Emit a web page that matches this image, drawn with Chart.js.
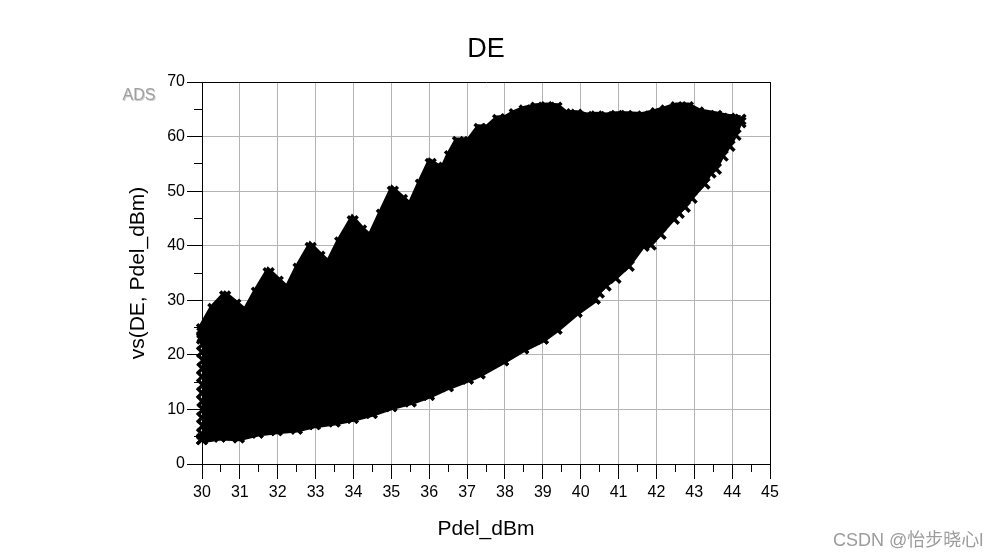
<!DOCTYPE html>
<html>
<head>
<meta charset="utf-8">
<title>DE</title>
<script src="https://cdn.jsdelivr.net/npm/chart.js@4"></script>
<style>
  html, body { margin: 0; background: #fff; }
  canvas { display: block; }
</style>
</head>
<body>
<canvas id="deChart" width="998" height="559"></canvas>
<script>
// outline of the point cloud (marker centres)
const upperPdel = [30.0, 30.3, 30.61, 30.88, 31.15, 31.45, 31.76, 32.0, 32.26, 32.55, 32.87, 33.1, 33.35, 33.65, 33.98, 34.2, 34.45, 34.75, 35.04, 35.28, 35.51, 35.78, 36.04, 36.2, 36.36, 36.55, 36.76, 37.07, 37.33, 37.55, 37.82, 38.04, 38.26, 38.52, 38.83, 39.1, 39.36, 39.58, 39.89, 40.15, 40.42, 40.68, 40.95, 41.21, 41.65, 42.0, 42.26, 42.53, 42.83, 43.1, 43.58, 43.93, 44.22];
const upperDE = [24.7, 28.4, 30.7, 29.2, 27.6, 31.4, 34.96, 33.4, 31.7, 35.8, 39.6, 38.0, 36.4, 40.6, 44.5, 42.8, 41.2, 45.7, 49.9, 48.4, 47.0, 51.2, 55.0, 54.3, 53.5, 56.4, 59.0, 59.0, 61.4, 61.35, 63.05, 63.2, 64.1, 64.8, 65.3, 65.4, 65.3, 64.1, 64.0, 63.6, 63.7, 63.6, 63.8, 63.8, 63.7, 64.3, 64.8, 65.4, 65.4, 64.4, 63.8, 63.3, 63.1];

const lowerPdel = [30.0, 30.47, 30.97, 31.47, 31.97, 32.5, 32.98, 33.5, 33.98, 34.48, 35.0, 35.51, 35.99, 36.49, 37.02, 37.33, 37.95, 38.48, 39.0, 39.36, 39.89, 40.37, 40.48, 40.66, 40.92, 41.27, 41.66, 41.85, 42.11, 42.46, 42.59, 42.75, 42.93, 43.27, 43.43, 43.57, 43.75, 43.93, 44.09, 44.22];
const lowerDE = [4.55, 5.04, 4.9, 5.77, 6.2, 6.5, 7.3, 7.8, 8.45, 9.36, 10.6, 11.5, 12.7, 14.26, 15.67, 16.6, 19.0, 21.2, 23.0, 24.8, 27.9, 30.3, 31.4, 32.7, 34.1, 36.3, 40.0, 40.2, 42.2, 44.95, 46.05, 47.15, 48.8, 51.4, 53.4, 54.1, 56.5, 58.3, 60.3, 62.6];
// below 40.4 dBm the cloud is dense, past that single crosses show along the edge
const denseCount = 22;

// left edge of the cloud, near the start of the sweep
const edgePdel = [30.0, 30.02, 30.0, 30.03, 30.01, 30.0, 30.02, 30.0, 30.01, 30.03, 30.0, 30.02, 30.0, 30.01];
const edgeDE = [5.5, 7.0, 8.5, 10.0, 11.5, 13.0, 14.5, 16.0, 17.5, 19.0, 20.5, 22.0, 23.0, 24.0];

const pdelRange = [30, 45];
const deRange = [0, 70];
const pdelStep = 0.5;
const deStep = 5;

const zip = (xs, ys) => xs.map((x, i) => ({ x: x, y: ys[i] }));

const GRID = "#b4b4b4";
const FONT = '"Liberation Sans", Arial, sans-serif';

function markerSet(xs, ys, extra) {
  return Object.assign({
    data: zip(xs, ys),
    showLine: true,
    borderColor: "#000",
    backgroundColor: "#000",
    borderWidth: 9,
    tension: 0,
    pointStyle: "crossRot",
    pointRadius: 7,
    pointBorderWidth: 3.5,
    pointBorderColor: "#000",
    clip: false,
  }, extra);
}

// axis tick marks (majors 15px, minors 8px) plus the loose labels
const extras = {
  id: "extras",
  afterDraw(chart) {
    const { ctx, scales } = chart;
    ctx.save();
    ctx.strokeStyle = "#000";
    ctx.lineWidth = 1;
    ctx.beginPath();
    scales.x.ticks.forEach((t) => {
      const px = Math.floor(scales.x.getPixelForValue(t.value)) + 0.5;
      const len = Number.isInteger(t.value) ? 15 : 8;
      ctx.moveTo(px, scales.x.top);
      ctx.lineTo(px, scales.x.top + len);
    });
    scales.y.ticks.forEach((t) => {
      const py = Math.floor(scales.y.getPixelForValue(t.value)) + 0.5;
      const len = t.value % 10 === 0 ? 15 : 8;
      ctx.moveTo(scales.y.right, py);
      ctx.lineTo(scales.y.right - len, py);
    });
    ctx.stroke();

    ctx.textBaseline = "middle";
    ctx.textAlign = "center";
    ctx.save();
    ctx.shadowColor = "#d0d0d0";
    ctx.shadowOffsetX = 1;
    ctx.shadowOffsetY = 1;
    ctx.fillStyle = "#a0a0a0";
    ctx.font = "16px " + FONT;
    ctx.fillText("ADS", 139, 96);
    ctx.restore();

    ctx.textAlign = "left";
    ctx.fillStyle = "#9c9c9c";
    ctx.font = '18px "Liberation Sans", "Noto Sans CJK SC", sans-serif';
    ctx.fillText("CSDN @怡步晓心l", 833, 541);
    ctx.restore();
  },
};

new Chart(document.getElementById("deChart"), {
  type: "scatter",
  data: {
    datasets: [
      markerSet(upperPdel, upperDE, { label: "upper", fill: "+1" }),
      markerSet(lowerPdel, lowerDE, { label: "lower", borderWidth: 4, fill: false }),
      markerSet(lowerPdel.slice(0, denseCount), lowerDE.slice(0, denseCount), { label: "lower dense", borderWidth: 8, fill: false }),
      markerSet(edgePdel, edgeDE, { label: "edge", showLine: false, fill: false }),
    ],
  },
  options: {
    responsive: false,
    animation: false,
    layout: { padding: { left: 0, right: 228, top: 0, bottom: 0 } },
    plugins: {
      legend: { display: false },
      tooltip: { enabled: false },
      title: {
        display: true,
        text: "DE",
        fullSize: false,
        color: "#000",
        font: { family: FONT, size: 27, weight: "normal" },
        padding: { top: 33.8, bottom: 15.8 },
      },
    },
    scales: {
      x: {
        type: "linear",
        min: pdelRange[0],
        max: pdelRange[1],
        afterFit: (s) => { s.height = 95; },
        border: { color: "#000" },
        grid: {
          drawTicks: false,
          color: (c) => {
            const v = c.tick.value;
            if (!Number.isInteger(v)) return "rgba(0,0,0,0)";
            return v === pdelRange[0] || v === pdelRange[1] ? "#000" : GRID;
          },
        },
        ticks: {
          stepSize: pdelStep,
          autoSkip: false,
          maxRotation: 0,
          padding: 19,
          color: "#000",
          font: { family: FONT, size: 16 },
          callback: (v) => (Number.isInteger(v) ? v : ""),
        },
        title: {
          display: true,
          text: "Pdel_dBm",
          color: "#000",
          font: { family: FONT, size: 21 },
          padding: { top: 0, bottom: 17 },
        },
      },
      y: {
        type: "linear",
        min: deRange[0],
        max: deRange[1],
        afterFit: (s) => { s.width = 202; },
        border: { color: "#000" },
        grid: {
          drawTicks: false,
          color: (c) => {
            const v = c.tick.value;
            if (v % 10 !== 0) return "rgba(0,0,0,0)";
            return v === deRange[0] || v === deRange[1] ? "#000" : GRID;
          },
        },
        ticks: {
          stepSize: deStep,
          autoSkip: false,
          padding: 17,
          color: "#000",
          font: { family: FONT, size: 16 },
          callback: (v) => (v % 10 === 0 ? v : ""),
        },
        title: {
          display: true,
          text: "vs(DE, Pdel_dBm)",
          color: "#000",
          font: { family: FONT, size: 21 },
          padding: { top: 126, bottom: 0 },
        },
      },
    },
  },
  plugins: [extras],
});
</script>
</body>
</html>
